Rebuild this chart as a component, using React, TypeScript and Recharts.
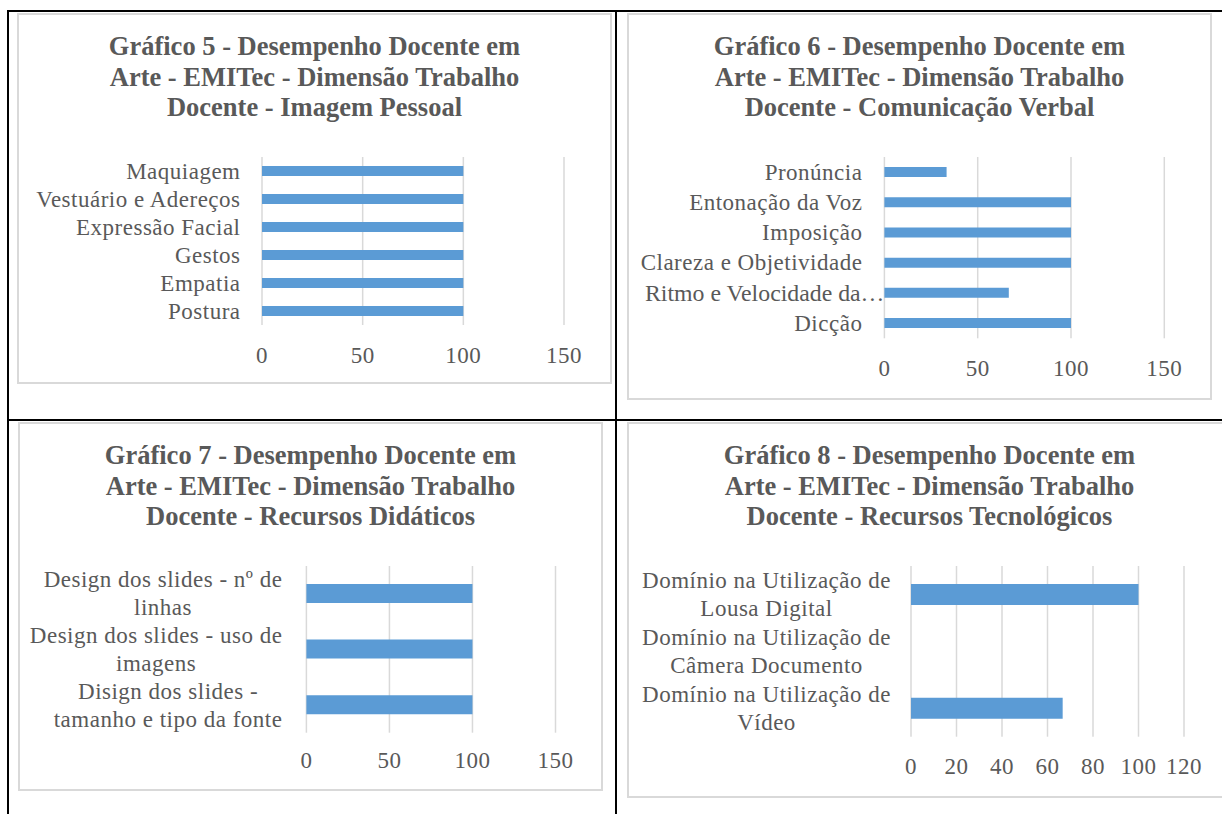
import React from 'react';
import { BarChart, Bar, XAxis, YAxis, CartesianGrid } from 'recharts';

// --- data ---
const titles5 = ['Gráfico 5 - Desempenho Docente em', 'Arte - EMITec - Dimensão Trabalho', 'Docente - Imagem Pessoal'];
const categories5 = ['Maquiagem', 'Vestuário e Adereços', 'Expressão Facial', 'Gestos', 'Empatia', 'Postura'];
const values5 = [100, 100, 100, 100, 100, 100];

const titles6 = ['Gráfico 6 - Desempenho Docente em', 'Arte - EMITec - Dimensão Trabalho', 'Docente - Comunicação Verbal'];
const categories6 = ['Pronúncia', 'Entonação da Voz', 'Imposição', 'Clareza e Objetividade', 'Ritmo e Velocidade da…', 'Dicção'];
const values6 = [33.33, 100, 100, 100, 66.67, 100];

const titles7 = ['Gráfico 7 - Desempenho Docente em', 'Arte - EMITec - Dimensão Trabalho', 'Docente - Recursos Didáticos'];
const categories7 = ['Design dos slides - nº de linhas', 'Design dos slides - uso de imagens', 'Disign dos slides - tamanho e tipo da fonte'];
const values7 = [100, 100, 100];

const titles8 = ['Gráfico 8 - Desempenho Docente em', 'Arte - EMITec - Dimensão Trabalho', 'Docente - Recursos Tecnológicos'];
const categories8 = ['Domínio na Utilização de Lousa Digital', 'Domínio na Utilização de Câmera Documento', 'Domínio na Utilização de Vídeo'];
const values8 = [100, 0, 66.67];

const ticks150 = [0, 50, 100, 150];
const ticks120 = [0, 20, 40, 60, 80, 100, 120];

const FONT = '"Liberation Serif", "Times New Roman", serif';
const TEXT = '#595959';
const BAR = '#5b9bd5';
const GRID = '#d9d9d9';
const LABEL_FS = 23;
const LABEL_LS = 0.5;
const LINE_H = 28;

let ctx: CanvasRenderingContext2D | null = null;
const measure = (s: string) => {
  if (!ctx) {
    ctx = document.createElement('canvas').getContext('2d');
  }
  if (!ctx) return s.length * LABEL_FS * 0.45;
  ctx.font = `${LABEL_FS}px ${FONT}`;
  return ctx.measureText(s).width + s.length * LABEL_LS;
};

// greedy word wrap, like Excel does for long category names
const wrapLabel = (s: string, maxChars: number) => {
  const lines: string[] = [];
  let cur = '';
  s.split(' ').forEach((w) => {
    const next = cur ? cur + ' ' + w : w;
    if (next.length > maxChars && cur) {
      lines.push(cur);
      cur = w;
    } else {
      cur = next;
    }
  });
  if (cur) lines.push(cur);
  return lines;
};

const CategoryTick = (props: any) => {
  const { x, y, payload, wrap, minX, gap } = props;
  const lines = wrap ? wrapLabel(payload.value, 26) : [payload.value];
  const common = { fill: TEXT, fontFamily: FONT, fontSize: LABEL_FS, letterSpacing: LABEL_LS };
  if (lines.length === 1) {
    const w = measure(payload.value);
    if (x - w < 5) {
      // too long for the label area: squeeze it, ending at the axis
      const end = x + gap;
      return (
        <text x={minX} y={y} dy={LABEL_FS * 0.33} textAnchor="start" textLength={end - minX} lengthAdjust="spacingAndGlyphs" {...common} letterSpacing={0}>
          {payload.value}
        </text>
      );
    }
    return (
      <text x={x} y={y} dy={LABEL_FS * 0.33} textAnchor="end" {...common}>
        {payload.value}
      </text>
    );
  }
  const w = Math.max(...lines.map(measure));
  const cx = x - w / 2;
  return (
    <text textAnchor="middle" {...common}>
      {lines.map((l: string, i: number) => (
        <tspan key={i} x={cx} y={y + (i - (lines.length - 1) / 2) * LINE_H + LABEL_FS * 0.33}>
          {l}
        </tspan>
      ))}
    </text>
  );
};

const ValueTick = (props: any) => {
  const { x, y, payload, offset } = props;
  return (
    <text x={x} y={y + offset + LABEL_FS * 0.34} textAnchor="middle" fill={TEXT} fontFamily={FONT} fontSize={LABEL_FS} letterSpacing={LABEL_LS}>
      {payload.value}
    </text>
  );
};

type Rect = { left: number; top: number; right: number; bottom: number };

interface PanelProps {
  titles: string[];
  categories: string[];
  values: number[];
  ticks: number[];
  box: Rect;
  plot: Rect;
  barSize: number;
  labelGap: number;
  tickOffset: number;
  wrap?: boolean;
}

const Panel = ({ titles, categories, values, ticks, box, plot, barSize, labelGap, tickOffset, wrap }: PanelProps) => {
  const data = categories.map((name, i) => ({ name, value: values[i] }));
  const w = box.right - box.left;
  const h = box.bottom - box.top;
  const xAxisH = 40;
  return (
    <>
      <div
        style={{
          position: 'absolute',
          left: box.left,
          top: box.top,
          width: w,
          height: h,
          border: `2px solid ${GRID}`,
          boxSizing: 'border-box',
        }}
      />
      <div
        style={{
          position: 'absolute',
          left: box.left,
          top: box.top + 18,
          width: w,
          textAlign: 'center',
          fontFamily: FONT,
          fontWeight: 'bold',
          fontSize: 26.5,
          lineHeight: '30.7px',
          color: TEXT,
        }}
      >
        {titles.map((t) => (
          <div key={t}>{t}</div>
        ))}
      </div>
      <div style={{ position: 'absolute', left: box.left, top: box.top }}>
        <BarChart
          layout="vertical"
          width={w}
          height={h}
          data={data}
          margin={{ top: plot.top - box.top, right: box.right - plot.right, bottom: h - (plot.bottom - box.top) - xAxisH, left: 0 }}
        >
          <CartesianGrid horizontal={false} stroke={GRID} strokeWidth={1.5} />
          <XAxis
            type="number"
            domain={[0, ticks[ticks.length - 1]]}
            ticks={ticks}
            interval={0}
            axisLine={false}
            tickLine={false}
            tickSize={0}
            tickMargin={0}
            height={xAxisH}
            tick={<ValueTick offset={tickOffset} />}
          />
          <YAxis
            type="category"
            dataKey="name"
            width={plot.left - box.left}
            interval={0}
            axisLine={false}
            tickLine={false}
            tickSize={0}
            tickMargin={labelGap}
            tick={<CategoryTick wrap={wrap} minX={18} gap={labelGap} />}
          />
          <Bar dataKey="value" fill={BAR} barSize={barSize} isAnimationActive={false} />
        </BarChart>
      </div>
    </>
  );
};

const line = (left: number, top: number, width: number, height: number) => (
  <div style={{ position: 'absolute', left, top, width, height, background: '#000' }} />
);

export default function App() {
  return (
    <div style={{ position: 'absolute', left: 0, top: 0, width: 1222, height: 814, overflow: 'hidden', background: '#fff' }}>
      {line(7, 10, 1215, 2)}
      {line(7, 419, 1215, 2)}
      {line(7, 10, 2, 804)}
      {line(615, 10, 2, 804)}
      <Panel
        titles={titles5}
        categories={categories5}
        values={values5}
        ticks={ticks150}
        box={{ left: 17, top: 13, right: 612, bottom: 384 }}
        plot={{ left: 262, top: 157, right: 564, bottom: 325 }}
        barSize={10}
        labelGap={21.5}
        tickOffset={30}
      />
      <Panel
        titles={titles6}
        categories={categories6}
        values={values6}
        ticks={ticks150}
        box={{ left: 627, top: 13, right: 1212, bottom: 400 }}
        plot={{ left: 884.4, top: 157, right: 1164.3, bottom: 338.3 }}
        barSize={10}
        labelGap={22}
        tickOffset={29.7}
      />
      <Panel
        titles={titles7}
        categories={categories7}
        values={values7}
        ticks={ticks150}
        box={{ left: 18, top: 422, right: 603, bottom: 791 }}
        plot={{ left: 306.4, top: 566, right: 555.5, bottom: 732.7 }}
        barSize={19}
        labelGap={24}
        tickOffset={27.3}
        wrap
      />
      <Panel
        titles={titles8}
        categories={categories8}
        values={values8}
        ticks={ticks120}
        box={{ left: 627, top: 422, right: 1232, bottom: 798 }}
        plot={{ left: 911, top: 566, right: 1184, bottom: 736.7 }}
        barSize={21}
        labelGap={20}
        tickOffset={29.3}
        wrap
      />
    </div>
  );
}
